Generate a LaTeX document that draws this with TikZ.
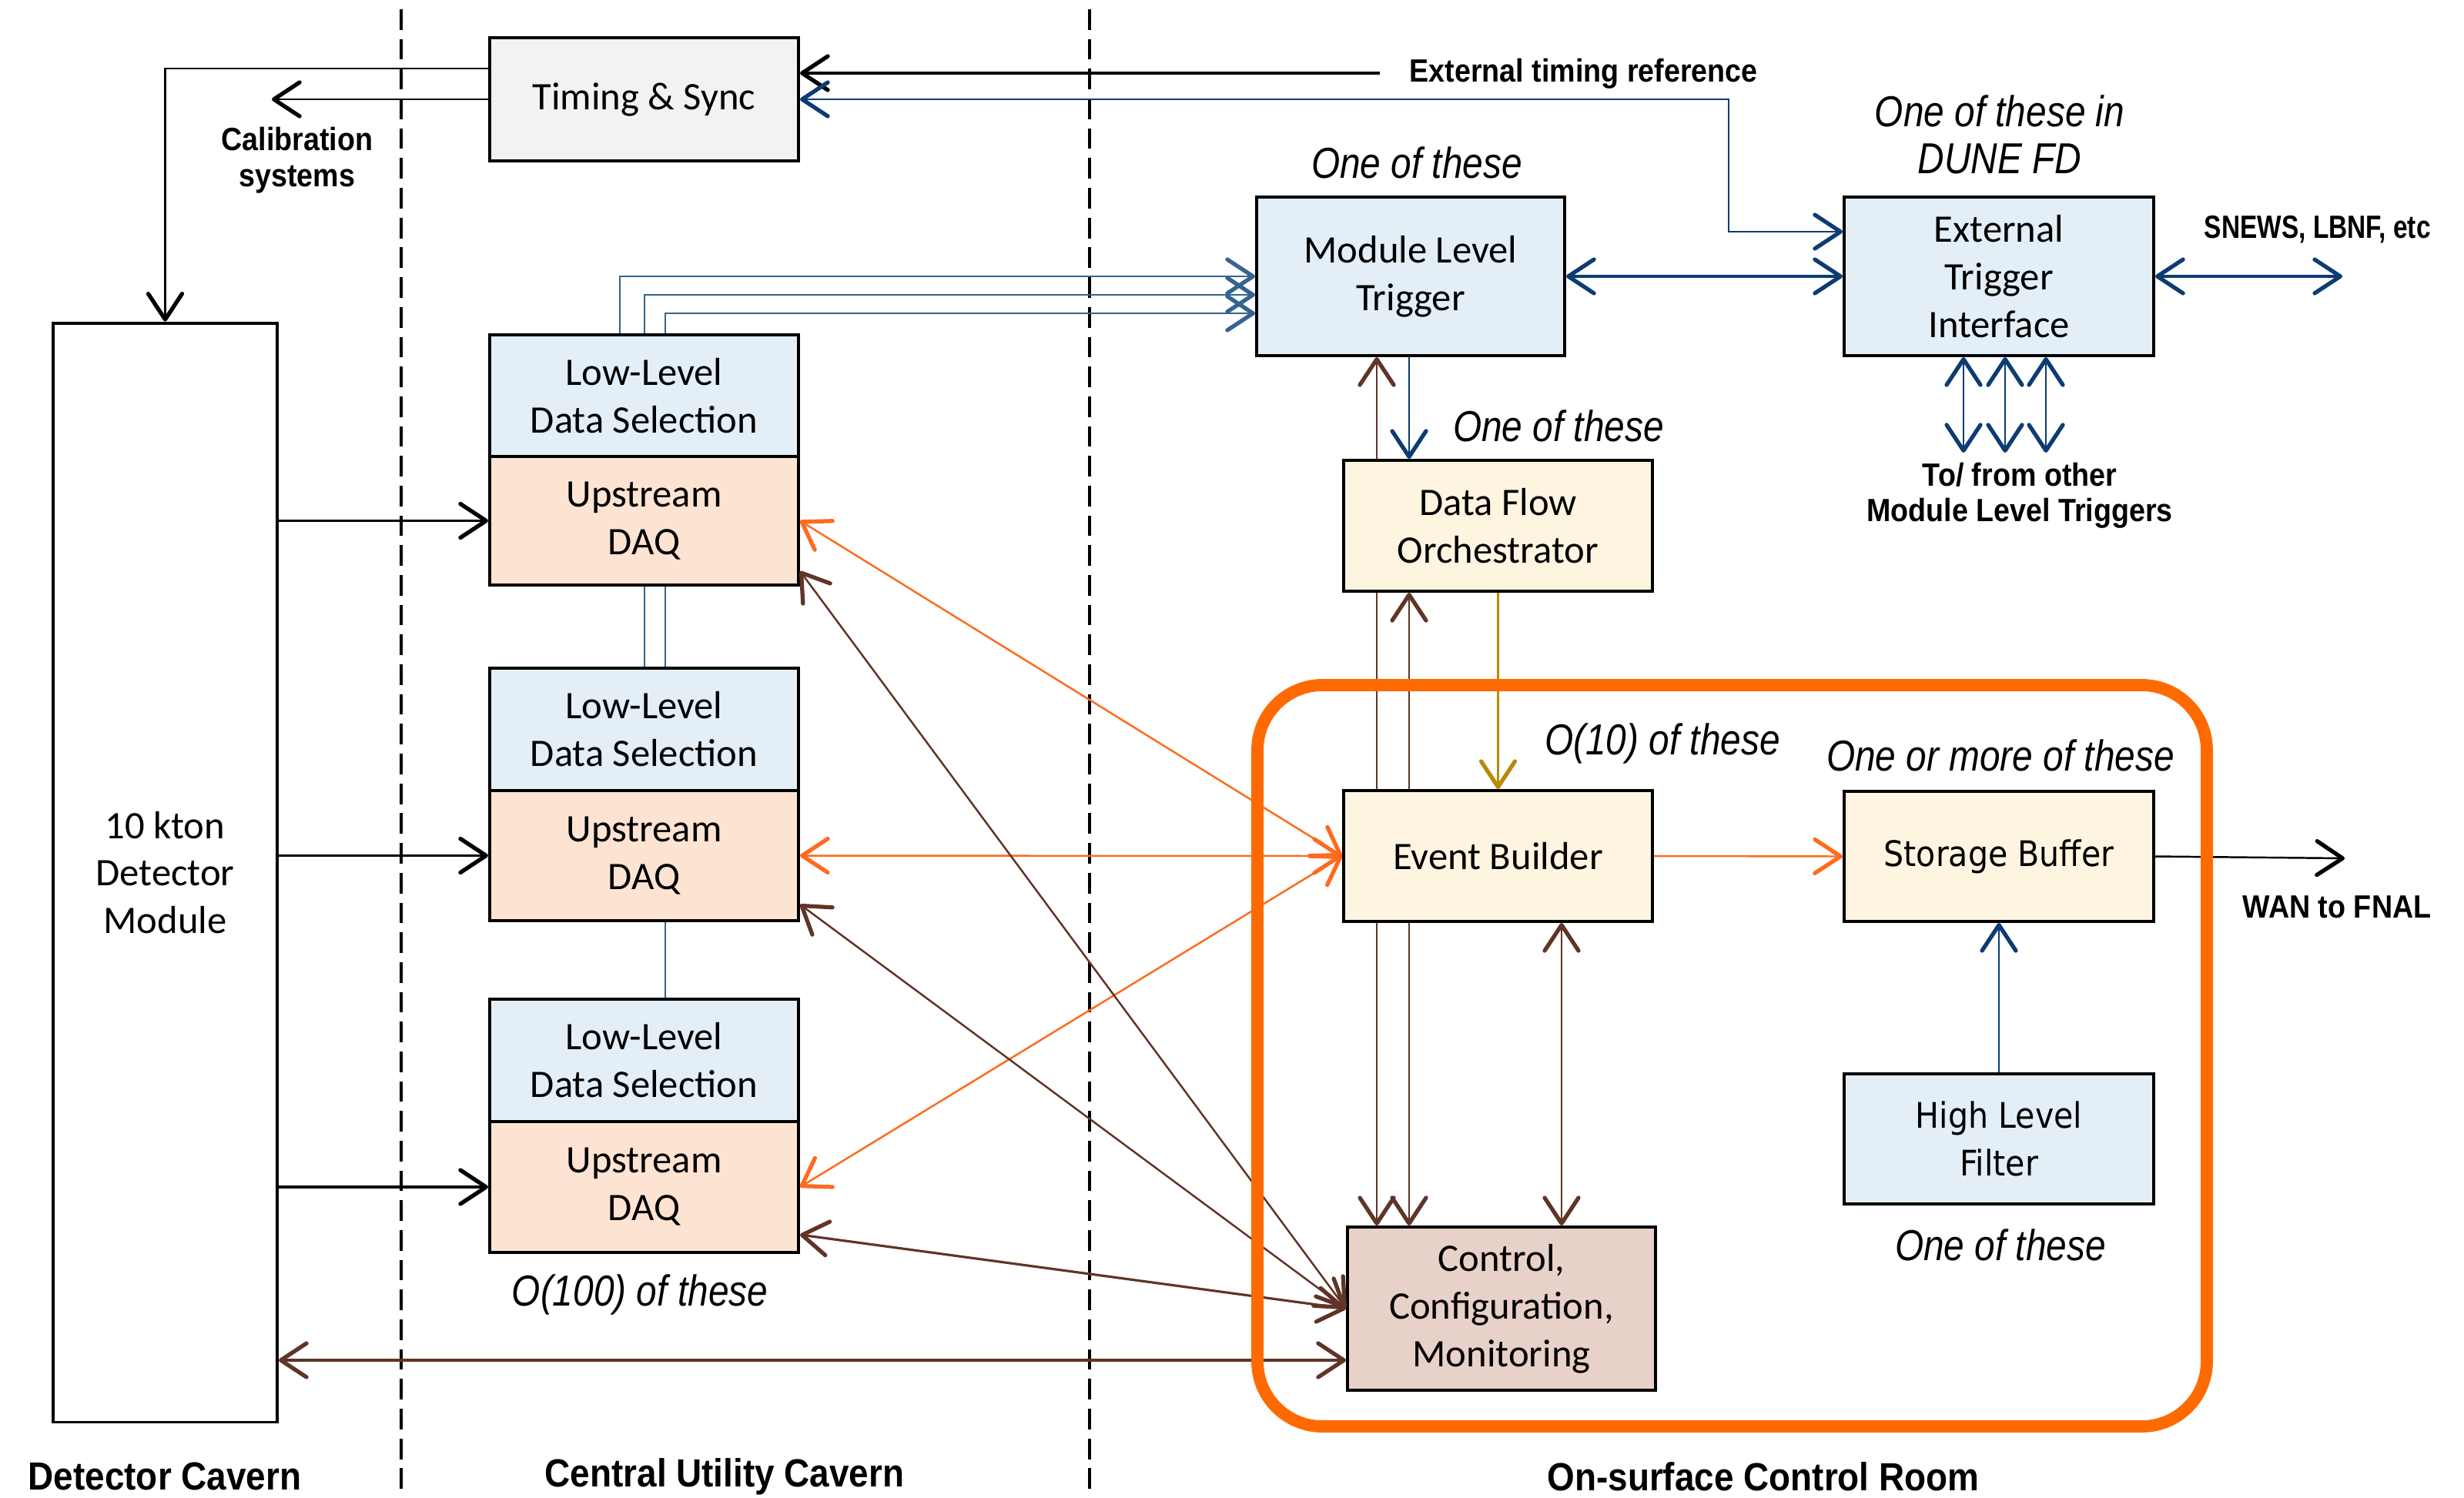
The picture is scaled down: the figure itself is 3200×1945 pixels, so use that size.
\documentclass[tikz,border=0pt]{standalone}
\usepackage{fontspec}
\setmainfont{Carlito}
\newfontfamily\lblfont[FakeStretch=0.9]{Liberation Sans}
\newfontfamily\narlblfont[FakeStretch=0.8]{Liberation Sans}
\newfontfamily\itlfont[FakeStretch=0.85]{Liberation Sans}
\newfontfamily\vrdfont[FakeStretch=0.9]{DejaVu Sans}
\usetikzlibrary{arrows.meta,calc}
\definecolor{llblue}{HTML}{E3EEF6}
\definecolor{peach}{HTML}{FDE3D2}
\definecolor{cream}{HTML}{FEF5E1}
\definecolor{ccmc}{HTML}{E8D1C8}
\definecolor{tsgray}{HTML}{F2F2F2}
\definecolor{orangebox}{HTML}{FF6A00}
\definecolor{orangec}{HTML}{FF6A1E}
\definecolor{brownc}{HTML}{603427}
\definecolor{navyc}{HTML}{0C3C72}
\definecolor{steelc}{HTML}{34648F}
\definecolor{goldc}{HTML}{B98A08}
\begin{document}
\begin{tikzpicture}[x=0.01cm,y=-0.01cm,
  >={Straight Barb[length=9.5pt,width=12.5pt,line width=1.5pt,round]},
  box/.style={draw=black,line width=1.1pt,inner sep=0pt,align=center,font=\fontsize{14.4}{17.6}\selectfont},
  vbox/.style={box,font=\vrdfont\fontsize{13}{17.4}\selectfont},
  conn/.style={line width=0.7pt},
  thk/.style={line width=0.9pt},
  blbl/.style={font=\lblfont\bfseries\fontsize{11.9}{13.5}\selectfont,align=center,inner sep=0pt},
  itl/.style={font=\itlfont\itshape\fontsize{16}{17.4}\selectfont,align=center,inner sep=0pt},
  bot/.style={font=\lblfont\bfseries\fontsize{14.5}{16}\selectfont,inner sep=0pt},
  divider/.style={dash pattern=on 7.6pt off 3.4pt,line width=1pt}
]
\useasboundingbox[fill=white] (0,0) rectangle (3200,1945);

% dividers
\coordinate (d1t) at (521,12);
\coordinate (d1b) at (521,1945);
\coordinate (d2t) at (1415,12);
\coordinate (d2b) at (1415,1945);
\draw[divider] (d1t) -- (d1b);
\draw[divider] (d2t) -- (d2b);

% boxes
\node[box,fill=tsgray,minimum width=4.01cm,minimum height=1.60cm] (ts) at (836.5,129) {Timing \& Sync};
\node[box,fill=white,minimum width=2.91cm,minimum height=14.27cm] (det) at (214.5,1133.5) {10 kton\\Detector\\Module};
\node[box,fill=llblue,minimum width=4.01cm,minimum height=1.58cm] (ll1) at (836.5,514) {Low-Level\\Data Selection};
\node[box,fill=peach,minimum width=4.01cm,minimum height=1.67cm] (daq1) at (836.5,676.5) {Upstream\\DAQ};
\node[box,fill=llblue,minimum width=4.01cm,minimum height=1.59cm] (ll2) at (836.5,947.5) {Low-Level\\Data Selection};
\node[box,fill=peach,minimum width=4.01cm,minimum height=1.69cm] (daq2) at (836.5,1111.5) {Upstream\\DAQ};
\node[box,fill=llblue,minimum width=4.01cm,minimum height=1.59cm] (ll3) at (836.5,1377.5) {Low-Level\\Data Selection};
\node[box,fill=peach,minimum width=4.01cm,minimum height=1.70cm] (daq3) at (836.5,1542) {Upstream\\DAQ};
\node[box,fill=llblue,minimum width=4.00cm,minimum height=2.06cm] (mlt) at (1832,359) {Module Level\\Trigger};
\node[box,fill=llblue,minimum width=4.02cm,minimum height=2.06cm] (eti) at (2596,359) {External\\Trigger\\Interface};
\node[box,fill=cream,minimum width=4.01cm,minimum height=1.70cm] (dfo) at (1945.5,683) {Data Flow\\Orchestrator};
\node[box,fill=cream,minimum width=4.01cm,minimum height=1.70cm] (eb) at (1945.5,1112) {Event Builder};
\node[box,fill=ccmc,minimum width=4.00cm,minimum height=2.12cm] (ccm) at (1950,1700) {Control,\\Configuration,\\Monitoring};
\node[vbox,fill=cream,minimum width=4.02cm,minimum height=1.69cm] (sb) at (2596,1112.5) {Storage Buffer};
\node[vbox,fill=llblue,minimum width=4.02cm,minimum height=1.69cm] (hlf) at (2596,1479.5) {High Level\\Filter};

% labels
\node[blbl] (callbl) at (386,208) {Calibration\\systems};
\node[blbl,anchor=west] (extlbl) at (1830,96) {External timing reference};
\node[itl] (dunelbl) at (2597,175) {One of these in\\DUNE FD};
\node[itl] (mltlbl) at (1840,211) {One of these};
\node[blbl,anchor=west,font=\narlblfont\bfseries\fontsize{11.9}{13.5}\selectfont] (snewslbl) at (2862,298) {SNEWS, LBNF, etc};
\node[blbl,font=\lblfont\bfseries\fontsize{11.9}{13}\selectfont] (otherlbl) at (2623,644) {To/ from other\\Module Level Triggers};
\node[itl] (dfolbl) at (2024,553) {One of these};
\node[itl] (eblbl) at (2159,966) {O(10) of these};
\node[itl] (sblbl) at (2598,981) {One or more of these};
\node[blbl] (wanlbl) at (3035,1178) {WAN to FNAL};
\node[itl] (hlflbl) at (2598,1617) {One of these};
\node[itl] (daqlbl) at (831,1682) {O(100) of these};
\node[bot] (b1) at (214,1918) {Detector Cavern};
\node[bot] (b2) at (941,1918) {Central Utility Cavern};
\node[bot] (b3) at (2290,1918) {On-surface Control Room};

% coordinates
\coordinate (cal) at (353,129);
\coordinate (ext) at (1792,95);
\coordinate (tb) at (2245,129);
\coordinate (snews) at (3042,359);
\coordinate (v1) at (2550,588);
\coordinate (v2) at (2604,588);
\coordinate (v3) at (2657,588);
\coordinate (wan) at (3045,1115);
\coordinate (l1) at (805,359);
\coordinate (l2) at (837,383);
\coordinate (l3) at (864,407);
\coordinate (xa) at (1788,0);
\coordinate (xb) at (1830,0);
\coordinate (xc) at (2028,0);
\coordinate (yc) at (0,1767);

% timing
\draw[conn,->] (ts.west) -- (cal);
\draw[conn,->] ($(ts.north west)+(0,42)$) -| (det.north);
\draw[thk,->] (ext) -- (ext -| ts.east);
\draw[conn,navyc,<->] ($(eti.north west)+(0,47)$) -| (tb) -- (ts.east);

% detector to DAQ
\draw[thk,->] (det.east |- daq1.west) -- (daq1.west);
\draw[thk,->] (det.east |- daq2.west) -- (daq2.west);
\draw[thk,->] (det.east |- daq3.west) -- (daq3.west);

% low level to MLT
\draw[conn,steelc,->] (ll1.north -| l1) |- (mlt.west |- l1);
\draw[conn,steelc] (ll2.north -| l2) -- (daq1.south -| l2);
\draw[conn,steelc,->] (ll1.north -| l2) |- (mlt.west |- l2);
\draw[conn,steelc] (ll3.north -| l3) -- (daq2.south -| l3);
\draw[conn,steelc] (ll2.north -| l3) -- (daq1.south -| l3);
\draw[conn,steelc,->] (ll1.north -| l3) |- (mlt.west |- l3);

% trigger
\draw[thk,navyc,<->] (mlt.east) -- (eti.west);
\draw[thk,navyc,<->] (eti.east) -- (snews);
\draw[conn,navyc,<->] (v1 |- eti.south) -- (v1);
\draw[conn,navyc,<->] (v2 |- eti.south) -- (v2);
\draw[conn,navyc,<->] (v3 |- eti.south) -- (v3);
\draw[conn,navyc,->] (xb |- mlt.south) -- (xb |- dfo.north);

% brown verticals
\draw[conn,brownc,->] (xa |- dfo.north) -- (xa |- mlt.south);
\draw[conn,brownc] (xa |- dfo.south) -- (xa |- eb.north);
\draw[conn,brownc,->] (xa |- eb.south) -- (xa |- ccm.north);
\draw[conn,brownc,->] (xb |- eb.north) -- (xb |- dfo.south);
\draw[conn,brownc,->] (xb |- eb.south) -- (xb |- ccm.north);
\draw[conn,brownc,<->] (xc |- eb.south) -- (xc |- ccm.north);
\draw[conn,goldc,->] (dfo.south) -- (eb.north);

% data flow
\draw[conn,orangec,<->] (daq1.east) -- (eb.west);
\draw[conn,orangec,<->] (daq2.east) -- (eb.west);
\draw[conn,orangec,<->] (daq3.east) -- (eb.west);
\draw[conn,orangec,->] (eb.east) -- (sb.west);
\draw[conn,navyc,->] (hlf.north) -- (sb.south);
\draw[conn,->] (sb.east) -- (wan);

% control
\draw[conn,brownc,<->] ($(daq1.south east)+(0,-20)$) -- (ccm.west);
\draw[conn,brownc,<->] ($(daq2.south east)+(0,-23)$) -- (ccm.west);
\draw[thk,brownc,<->] ($(daq3.south east)+(0,-25)$) -- (ccm.west);
\draw[thk,brownc,<->] (det.east |- yc) -- (ccm.west |- yc);

% control room outline
\draw[orangebox,line width=4.5pt,rounded corners=24pt] (1633,890) rectangle (2866,1853);
\end{tikzpicture}
\end{document}
